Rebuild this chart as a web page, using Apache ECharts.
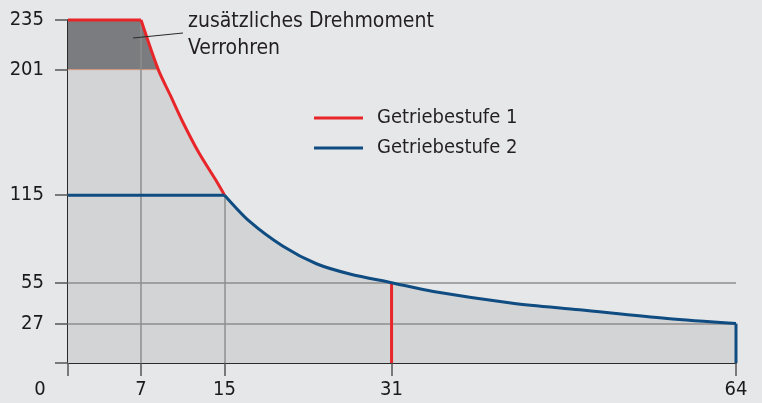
<!DOCTYPE html>
<html>
<head>
<meta charset="utf-8">
<script src="https://cdn.jsdelivr.net/npm/echarts@6/dist/echarts.min.js"></script>
<style>
  html, body { margin: 0; padding: 0; background: #e6e7e9; }
  #chart { width: 762px; height: 403px; }
</style>
</head>
<body>
<div id="chart"></div>
<script>
// tick positions
const xTicks = [0, 7, 15, 31, 64];
const yTicks = [0, 27, 55, 115, 201, 235];
const yLabels = [27, 55, 115, 201, 235];

// Getriebestufe 1 (rot)
const gear1Flat = [[0, 235], [7, 235]];
const gear1Curve = [[7, 235], [8.65, 201], [9.8, 183.5], [10.9, 166.5], [12.5, 144.5], [14.1, 126], [15, 115]];
const gear1Drop = [[31, 55], [31, 0]];

// Getriebestufe 2 (blau)
const gear2Flat = [[0, 115], [15, 115]];
const gear2Curve = [[15, 115], [17.4, 97], [20.6, 80], [23.8, 68], [27, 61], [31, 55], [35, 49],
                    [42.6, 41], [49, 36.5], [57.4, 30.5], [64, 27]];
const gear2Drop = [[64, 27], [64, 0]];

// zusätzliches Drehmoment Verrohren (201..235)
const extraBand = [[0, 235], [7, 235], [8.65, 201]];
const extraBase = [[0, 201], [8.65, 201]];

const gridH = [27, 55];
const gridV = [[7, 235], [15, 115]];

const RED = '#e8262a';
const BLUE = '#0f4c81';
const FILL = '#d3d4d6';
const DARK = '#7b7c7f';
const font = 'DejaVu Sans Condensed';
const SMOOTH = 0.3;

let chart = echarts.init(document.getElementById('chart'));

function area(data, color, z, smooth) {
    return {
        type: 'line', data: data, z: z, smooth: smooth || false,
        symbol: 'none', silent: true, clip: false,
        lineStyle: { width: 0 }, areaStyle: { color: color, opacity: 1 }
    };
}
function line(name, data, color, smooth) {
    return {
        name: name, type: 'line', data: data, z: 6, smooth: smooth || false,
        symbol: 'none', clip: false,
        lineStyle: { color: color, width: 3 }, itemStyle: { color: color }
    };
}

let gridLines = [];
gridH.forEach(v => gridLines.push([{ coord: [0, v] }, { coord: [64, v] }]));
gridV.forEach(v => gridLines.push([{ coord: [v[0], 0] }, { coord: [v[0], v[1]] }]));

let option = {
    backgroundColor: '#e6e7e9',
    animation: false,
    grid: { left: 68, right: 26, top: 20, bottom: 40 },
    legend: {
        data: ['Getriebestufe 1', 'Getriebestufe 2'],
        orient: 'vertical',
        left: 309,
        top: 103,
        icon: 'rect',
        itemWidth: 49,
        itemHeight: 3,
        itemGap: 10,
        selectedMode: false,
        textStyle: { fontFamily: font, fontSize: 20, color: '#231f20', padding: [0, 0, 0, 9] }
    },
    xAxis: {
        type: 'value', min: 0, max: 64,
        splitLine: { show: false },
        axisLine: { lineStyle: { color: '#2b2b2b', width: 2 } },
        axisTick: { customValues: xTicks, length: 13, lineStyle: { color: '#555', width: 1.5 } },
        axisLabel: {
            customValues: xTicks, margin: 17, color: '#1a1a1a', fontFamily: font, fontSize: 20,
            formatter: v => v === 0 ? '{z|0}' : String(v),
            rich: { z: { padding: [0, 56, 0, 0], fontFamily: font, fontSize: 20, color: '#1a1a1a' } }
        }
    },
    yAxis: {
        type: 'value', min: 0, max: 235,
        splitLine: { show: false },
        axisLine: { show: true, lineStyle: { color: '#2b2b2b', width: 2 } },
        axisTick: { show: true, customValues: yTicks, length: 13, lineStyle: { color: '#555', width: 1.5 } },
        axisLabel: { customValues: yLabels, margin: 24, color: '#1a1a1a', fontFamily: font, fontSize: 20 }
    },
    graphic: [
        {
            type: 'text', left: 188, top: 8, z: 10,
            style: { text: 'zusätzliches Drehmoment\nVerrohren', font: '21px "' + font + '"', fill: '#231f20', lineHeight: 27 }
        },
        {
            type: 'line', z: 10,
            shape: { x1: 133, y1: 38, x2: 183, y2: 33 },
            style: { stroke: '#2b2b2b', lineWidth: 1.2 }
        }
    ],
    series: [
        area(gear1Flat, FILL, 1),
        area(gear1Curve, FILL, 1, SMOOTH),
        area(gear2Curve, FILL, 1, SMOOTH),
        {
            type: 'line', data: extraBand, z: 2, symbol: 'none', silent: true, clip: false,
            lineStyle: { width: 0 }, areaStyle: { color: DARK, opacity: 1, origin: 201 }
        },
        {
            type: 'line', data: extraBase, z: 3, symbol: 'none', silent: true, clip: false,
            lineStyle: { color: '#d99a80', width: 1 }
        },
        {
            type: 'line', data: [], z: 4, silent: true,
            markLine: {
                silent: true, symbol: 'none', label: { show: false },
                lineStyle: { color: '#8e8e8e', width: 1.5, type: 'solid' },
                data: gridLines
            }
        },
        line('Getriebestufe 1', gear1Flat, RED),
        line('g1c', gear1Curve, RED, SMOOTH),
        line('g1d', gear1Drop, RED),
        line('Getriebestufe 2', gear2Flat, BLUE),
        line('g2c', gear2Curve, BLUE, SMOOTH),
        line('g2d', gear2Drop, BLUE)
    ]
};
chart.setOption(option);
</script>
</body>
</html>
